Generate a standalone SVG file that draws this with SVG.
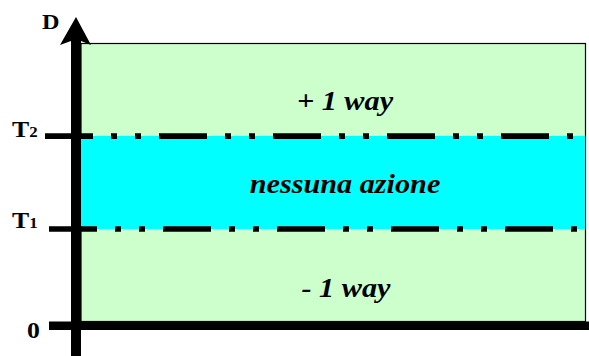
<svg xmlns="http://www.w3.org/2000/svg" width="589" height="356" viewBox="0 0 589 356">
<style>
.lbl{font-family:"Liberation Serif","Times New Roman",serif;font-weight:bold;fill:#000}
.zone{font-family:"Liberation Serif","Times New Roman",serif;font-weight:bold;font-style:italic;font-size:27px;fill:#000;text-anchor:middle}
.thr{stroke:#000;stroke-width:5.7;fill:none;stroke-dasharray:48 18 6 18 6 18}
</style>
<rect width="589" height="356" fill="#fff"/>
<g id="zones">
<rect id="upper" x="81" y="43.5" width="504.5" height="278" fill="#ccffcc" stroke="#000" stroke-width="1.2"/>
<rect id="middle" x="81" y="136" width="504" height="93" fill="#00ffff"/>
<text class="zone" transform="translate(345,110) scale(1.12,1)">+ 1 way</text>
<text class="zone" transform="translate(345,193) scale(1.12,1)">nessuna azione</text>
<text class="zone" transform="translate(346,297) scale(1.12,1)">- 1 way</text>
</g>
<g id="connectors">
<line id="t2line" class="thr" x1="45" y1="136.2" x2="586" y2="136.2"/>
<line id="t1line" class="thr" x1="49" y1="229" x2="586" y2="229"/>
<rect id="zeroline" x="49" y="321.5" width="540" height="8.5" fill="#000"/>
<rect id="shaft" x="71" y="40" width="10" height="316" fill="#000"/>
<polygon id="arrowhead" points="76,17 91,45 81,41 71,41 60,45" fill="#000"/>
</g>
<g id="axis-labels">
<text class="lbl" transform="translate(42,29) scale(1.1,1)" font-size="22">D</text>
<text class="lbl" transform="translate(12,137) scale(1.12,1)" font-size="23">T<tspan font-size="15">2</tspan></text>
<text class="lbl" transform="translate(12,228) scale(1.12,1)" font-size="23">T<tspan font-size="15">1</tspan></text>
<text class="lbl" transform="translate(27,338) scale(1.12,1)" font-size="23">0</text>
</g>
</svg>
